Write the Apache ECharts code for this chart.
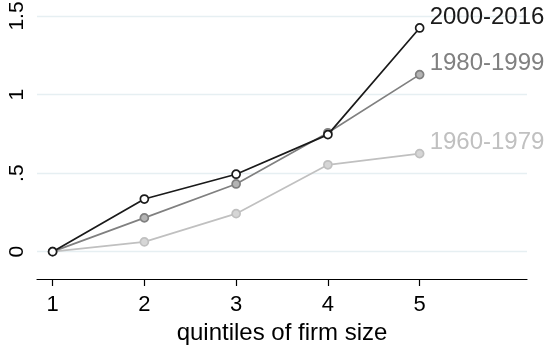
<!DOCTYPE html>
<html>
<head>
<meta charset="utf-8">
<script src="https://cdn.jsdelivr.net/npm/echarts@6/dist/echarts.min.js"></script>
<style>html,body{margin:0;padding:0;background:#fff;}#c{width:547px;height:347px;}</style>
</head>
<body>
<div id="c"></div>
<script>
const quintiles = [1, 2, 3, 4, 5];
const s2000 = [0, 0.335, 0.493, 0.745, 1.424];
const s1980 = [0, 0.215, 0.431, 0.757, 1.127];
const s1960 = [0, 0.062, 0.242, 0.553, 0.624];
const yTicks = [0, 0.5, 1, 1.5];
const yTickLabels = ['0', '.5', '1', '1.5'];
const seriesNames = ['2000-2016', '1980-1999', '1960-1979'];

const font = 'Liberation Sans, Arial, Helvetica, sans-serif';
const chart = echarts.init(document.getElementById('c'), null, {renderer: 'canvas'});
function mk(name, vals, line, fill, border, z) {
  return {
    name: name, type: 'line', zlevel: 1,
    data: quintiles.map((q, i) => [q, vals[i]]),
    symbol: 'circle', symbolSize: 8,
    lineStyle: {color: line, width: 1.7},
    itemStyle: {color: fill, borderColor: border, borderWidth: 1.7},
    endLabel: {show: true, formatter: name, color: line, fontFamily: font, fontSize: 24, offset: [2, -11]},
    z: z
  };
}
const gridSeries = {
  type: 'line', data: [], silent: true, zlevel: 0, z: 1,
  markLine: {
    silent: true, symbol: 'none', label: {show: false},
    lineStyle: {color: '#e6eff2', width: 1.3, type: 'solid'},
    data: yTicks.map(v => ({yAxis: v}))
  }
};
chart.setOption({
  animation: false,
  grid: {left: 37, right: 20, top: 0, bottom: 68, containLabel: false, outerBoundsMode: 'none'},
  xAxis: {
    type: 'value', min: 0.83, max: 6.17,
    axisLine: {show: true, onZero: false, lineStyle: {color: '#000', width: 1.2}},
    axisTick: {show: true, length: 7, lineStyle: {color: '#000', width: 1.2},
      customValues: quintiles},
    axisLabel: {customValues: quintiles, color: '#000', fontFamily: font, fontSize: 22, margin: 15},
    splitLine: {show: false},
    name: 'quintiles of firm size', nameLocation: 'middle', nameGap: 40,
    nameTextStyle: {color: '#000', fontFamily: font, fontSize: 24}
  },
  yAxis: {
    type: 'value', min: -0.174, max: 1.602,
    axisLine: {show: false}, axisTick: {show: false},
    axisLabel: {customValues: yTicks, rotate: 90, color: '#000', fontFamily: font, fontSize: 21, margin: 9,
      formatter: v => { const i = yTicks.findIndex(t => Math.abs(t - v) < 1e-6); return i >= 0 ? yTickLabels[i] : ''; }},
    splitLine: {show: false}
  },
  series: [
    gridSeries,
    mk(seriesNames[2], s1960, '#c0c0c0', '#d6d6d6', '#c0c0c0', 3),
    mk(seriesNames[1], s1980, '#808080', '#b4b4b4', '#808080', 4),
    mk(seriesNames[0], s2000, '#1a1a1a', '#ffffff', '#1a1a1a', 5)
  ]
});
</script>
</body>
</html>
